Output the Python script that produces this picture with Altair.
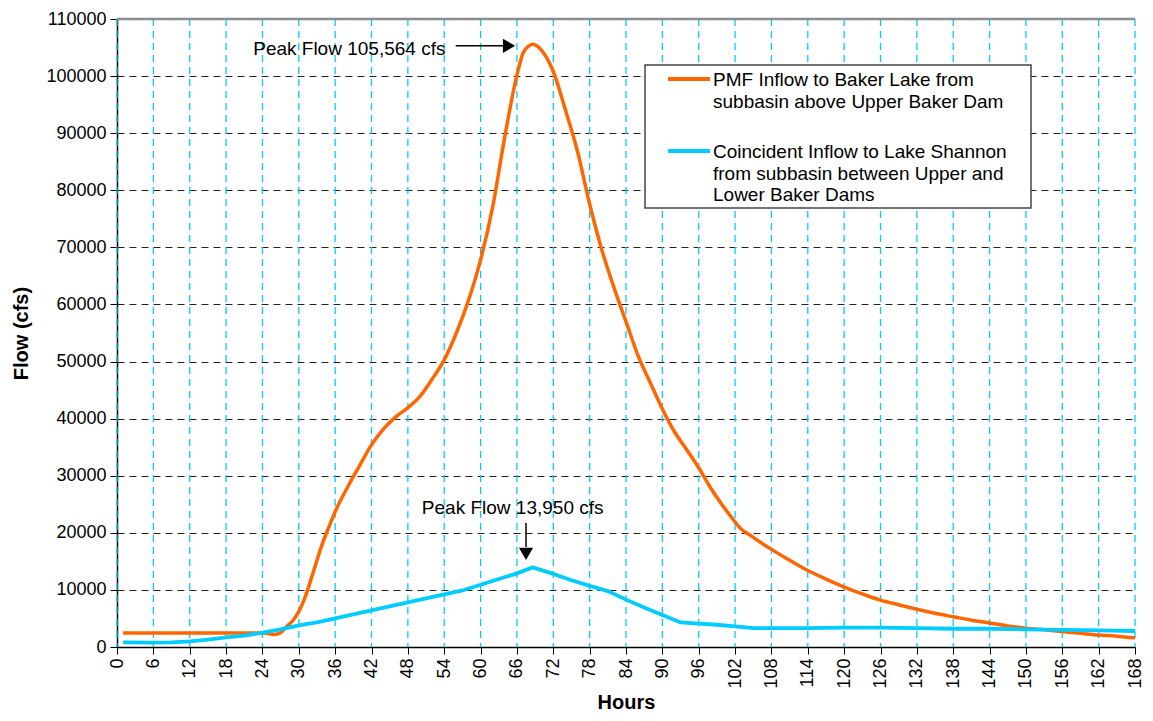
import altair as alt
import pandas as pd

# ---------------- data ----------------
pmf_hours = [1, 6, 12, 18, 24, 25, 26, 27, 28, 29, 30, 31, 32, 33, 34, 35, 36, 38, 40,
             42, 44, 46, 48, 50, 52, 54, 56, 58, 60, 62, 64, 66, 67, 68, 68.6, 70, 72,
             74, 76, 78, 80, 82, 84, 86, 88, 90, 92, 94, 96, 98, 100, 102, 102.6, 105,
             108, 111, 114, 117, 120, 123, 126, 129, 132, 135, 138, 141, 144, 147, 150,
             153, 156, 159, 162, 165, 168]
pmf_flow = [2450, 2450, 2450, 2450, 2450, 2350, 2200, 2500, 3600, 4600, 6200, 8600,
            11800, 15200, 18400, 21100, 23700, 27900, 31700, 35400, 38200, 40300, 41900,
            43900, 46900, 50300, 55000, 60700, 67800, 77100, 89400, 100200, 104000,
            105300, 105564, 104600, 100800, 94100, 86800, 77600, 69600, 63000, 57000,
            51000, 46300, 41700, 37700, 34600, 31400, 27800, 24700, 21900, 21100, 19200,
            17100, 15200, 13400, 11900, 10500, 9300, 8200, 7400, 6600, 5900, 5300, 4700,
            4200, 3700, 3300, 3000, 2700, 2400, 2100, 1900, 1600]

coin_hours = [1, 6, 9, 12, 15, 18, 21, 24, 27, 30, 33, 36, 39, 42, 45, 48, 51, 54, 57,
              60, 63, 66, 68.6, 72, 75, 78, 81, 84, 87, 90, 93, 96, 99, 102, 105, 108,
              114, 120, 126, 132, 138, 144, 150, 156, 162, 168]
coin_flow = [800, 750, 800, 1000, 1300, 1700, 2000, 2500, 3100, 3800, 4300, 5000, 5700,
             6400, 7100, 7800, 8500, 9200, 9900, 10900, 11900, 12900, 13950, 12800,
             11700, 10700, 9800, 8300, 6900, 5600, 4300, 4100, 3900, 3600, 3300, 3300,
             3300, 3400, 3400, 3300, 3200, 3200, 3100, 3000, 2900, 2800]

series_names = [
    "PMF Inflow to Baker Lake from\nsubbasin above Upper Baker Dam",
    "Coincident Inflow to Lake Shannon\nfrom subbasin between Upper and\nLower Baker Dams",
]
series_colors = ["#FF6600", "#00CCFF"]

x_ticks = list(range(0, 169, 6))
y_ticks = list(range(0, 110001, 10000))

ann_text = ["Peak Flow 105,564 cfs", "Peak Flow 13,950 cfs"]
ann_hour = [54.2, 65.3]
ann_flow = [104800, 24400]

arrow_hour = [55.9, 67.5]
arrow_flow = [105300, 21700]
arrow_hour2 = [64.0, 67.5]
arrow_flow2 = [105300, 17500]
head_hour = [64.7, 67.5]
head_flow = [105300, 16300]
head_shape = ["triangle-right", "triangle-down"]

FONT = "Liberation Sans"

# ---------------- tables ----------------
lines = pd.DataFrame(
    {"Hours": pmf_hours + coin_hours,
     "Flow": pmf_flow + coin_flow,
     "series": [series_names[0]] * len(pmf_hours) + [series_names[1]] * len(coin_hours)}
)
ann = pd.DataFrame({"h": ann_hour, "f": ann_flow, "t": ann_text})
arr = pd.DataFrame({"h": arrow_hour, "f": arrow_flow, "h2": arrow_hour2, "f2": arrow_flow2})
heads = pd.DataFrame({"h": head_hour, "f": head_flow, "s": head_shape})
top = pd.DataFrame({"h": [0], "h2": [168], "f": [110000]})
vgrid = pd.DataFrame({"h": x_ticks})

# legend (drawn as a framed box inside the plot, like the original)
LEG_X0, LEG_X1, LEG_Y0, LEG_Y1 = 528, 914, 46, 189
SW_X0, SW_X1, TXT_X = 551, 593, 596
ENTRY_Y = [60, 132]
LINE_H = 21.7
leg_sw = pd.DataFrame({"series": series_names, "y": ENTRY_Y,
                       "x0": [SW_X0] * 2, "x1": [SW_X1] * 2})
leg_rows = []
for name, y0 in zip(series_names, ENTRY_Y):
    for j, part in enumerate(name.split("\n")):
        leg_rows.append({"t": part, "y": y0 + 1 + j * LINE_H, "x": TXT_X})
leg_txt = pd.DataFrame(leg_rows)
leg_box = pd.DataFrame({"x0": [LEG_X0], "x1": [LEG_X1], "y0": [LEG_Y0], "y1": [LEG_Y1]})

xs = alt.Scale(domain=[0, 168], nice=False, zero=False)
ys = alt.Scale(domain=[0, 110000], nice=False)
cscale = alt.Scale(domain=series_names, range=series_colors)

base = alt.Chart(lines).encode(
    x=alt.X("Hours:Q", scale=xs,
            axis=alt.Axis(values=x_ticks, tickCount=60, title="Hours", labelAngle=270,
                          labelAlign="right", labelBaseline="middle",
                          labelOverlap=False, grid=False,
                          titleY=55, titleBaseline="middle",
                          tickColor="#000", tickSize=7, labelPadding=4)),
    y=alt.Y("Flow:Q", scale=ys,
            axis=alt.Axis(values=y_ticks, tickCount=20, title="Flow (cfs)", format="d",
                          labelOverlap=False,
                          titleX=-96, titleY=314, titleAngle=270,
                          titleBaseline="middle", titleAlign="center",
                          gridColor="#222222", gridDash=[7, 5], gridWidth=1,
                          tickColor="#000", tickSize=7, labelPadding=4)),
    color=alt.Color("series:N", scale=cscale, legend=None),
)

grid_v = alt.Chart(vgrid).mark_rule(color="#00CCFF", strokeDash=[7, 5],
                                    strokeWidth=1.3).encode(
    x=alt.X("h:Q", scale=xs), y=alt.value(0), y2=alt.value(628))

pmf_line = base.transform_filter(alt.datum.series == series_names[0]).mark_line(
    strokeWidth=3.5, interpolate="monotone")
coin_line = base.transform_filter(alt.datum.series == series_names[1]).mark_line(
    strokeWidth=3.8)

top_rule = alt.Chart(top).mark_rule(color="#8C8C8C", strokeWidth=2.5).encode(
    x=alt.X("h:Q", scale=xs), x2="h2", y=alt.Y("f:Q", scale=ys))

ann1 = alt.Chart(ann.iloc[[0]]).mark_text(
    font=FONT, fontSize=19, color="#000", baseline="middle", align="right").encode(
    x=alt.X("h:Q", scale=xs), y=alt.Y("f:Q", scale=ys), text="t:N")
ann2 = alt.Chart(ann.iloc[[1]]).mark_text(
    font=FONT, fontSize=19, color="#000", baseline="middle", align="center").encode(
    x=alt.X("h:Q", scale=xs), y=alt.Y("f:Q", scale=ys), text="t:N")

arrow_rules = alt.Chart(arr).mark_rule(color="#000", strokeWidth=1.5).encode(
    x=alt.X("h:Q", scale=xs), x2="h2", y=alt.Y("f:Q", scale=ys), y2="f2")
arrow_heads = alt.Chart(heads).mark_point(
    filled=True, color="#000", size=200, opacity=1).encode(
    x=alt.X("h:Q", scale=xs), y=alt.Y("f:Q", scale=ys),
    shape=alt.Shape("s:N", scale=None))

leg_frame = alt.Chart(leg_box).mark_rect(
    fill="#FFFFFF", stroke="#444444", strokeWidth=1.5).encode(
    x=alt.X("x0:Q", scale=None), x2="x1", y=alt.Y("y0:Q", scale=None), y2="y1")
leg_swatch = alt.Chart(leg_sw).mark_rule(strokeWidth=4).encode(
    x=alt.X("x0:Q", scale=None), x2="x1", y=alt.Y("y:Q", scale=None),
    color=alt.Color("series:N", scale=cscale, legend=None))
leg_text = alt.Chart(leg_txt).mark_text(
    font=FONT, fontSize=19, color="#000", align="left", baseline="middle").encode(
    x=alt.X("x:Q", scale=None), y=alt.Y("y:Q", scale=None), text="t:N")

chart = alt.layer(
    grid_v, top_rule, pmf_line, coin_line, ann1, ann2, arrow_rules, arrow_heads,
    leg_frame, leg_swatch, leg_text
).properties(
    width=1018, height=628,
    autosize=alt.AutoSizeParams(type="none"),
    padding={"left": 109, "top": 11, "right": 10, "bottom": 65},
).configure_view(stroke=None).configure_axis(
    labelFont=FONT, labelFontSize=18, labelColor="#000",
    titleFont=FONT, titleFontSize=20, titleFontWeight="bold", titleColor="#000",
    domainColor="#000", domainWidth=1.5,
)

chart.save("out.html", embed_options={"renderer": "svg", "actions": False})
